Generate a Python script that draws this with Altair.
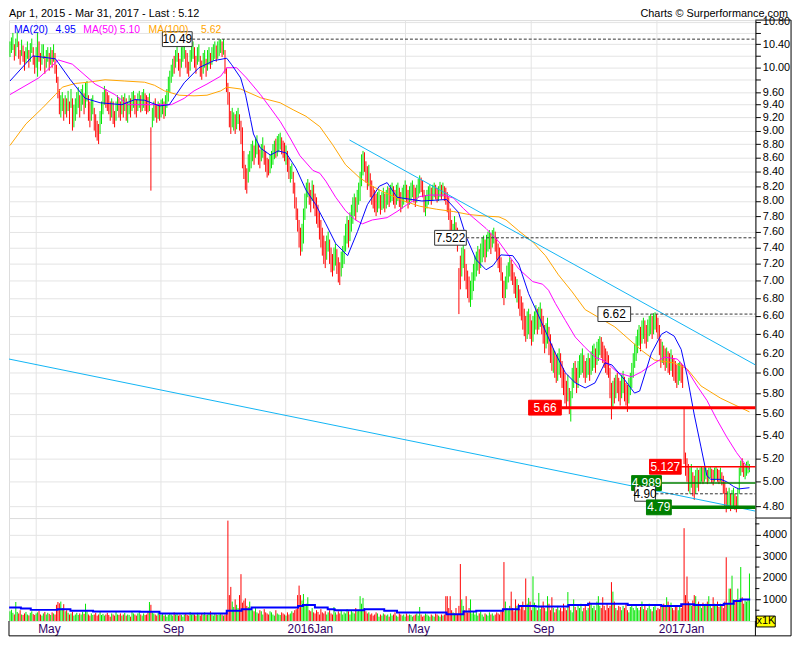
import math
import altair as alt
import pandas as pd

# ---------------- data ----------------
# daily bars: (low, high, direction) prices in cents, g = up day, r = down day
daily_bars = [
 (1018,1045,'g'),(1025,1052,'g'),(1030,1060,'g'),(1012,1040,'r'),(1020,1050,'g'),(1035,1062,'g'),(1015,1045,'r'),(1005,1030,'r'),(1020,1048,'g'),(1010,1038,'r'),
 (995,1028,'r'),(1008,1035,'g'),(1015,1045,'g'),(1000,1030,'r'),(1010,1042,'g'),(1025,1050,'g'),(1005,1035,'r'),(990,1020,'r'),(1000,1035,'g'),(985,1060,'g'),
 (1010,1045,'r'),(995,1025,'r'),(1005,1040,'g'),(1015,1040,'g'),(990,1020,'r'),(1000,1030,'g'),(1010,1035,'g'),(995,1025,'r'),(1005,1035,'g'),(1000,1030,'r'),
 (1010,1040,'g'),(990,1025,'r'),(975,1005,'r'),(950,985,'r'),(925,965,'r'),(920,955,'g'),(930,960,'g'),(915,950,'r'),(925,955,'g'),(920,950,'r'),
 (930,962,'g'),(910,945,'r'),(935,965,'g'),(900,950,'r'),(905,940,'g'),(915,950,'g'),(925,960,'g'),(935,968,'g'),(920,955,'r'),(930,965,'g'),
 (940,972,'g'),(925,958,'r'),(935,975,'g'),(945,978,'g'),(915,955,'r'),(905,945,'r'),(915,950,'g'),(925,955,'g'),(900,935,'r'),(890,925,'r'),
 (885,915,'r'),(880,910,'r'),(895,930,'g'),(910,945,'g'),(925,960,'g'),(940,970,'g'),(935,965,'r'),(930,960,'r'),(925,955,'r'),(915,945,'r'),
 (920,950,'g'),(910,945,'r'),(905,930,'r'),(915,945,'g'),(930,955,'g'),(920,950,'r'),(915,945,'r'),(925,955,'g'),(920,952,'r'),(930,958,'g'),
 (915,950,'r'),(912,945,'g'),(925,955,'g'),(920,950,'r'),(930,960,'g'),(935,962,'g'),(925,955,'r'),(920,948,'r'),(930,958,'g'),(935,962,'g'),
 (928,955,'r'),(930,960,'g'),(935,965,'g'),(930,958,'r'),(925,955,'r'),(928,952,'r'),(930,958,'g'),(814,905,'r'),(905,935,'g'),(915,945,'g'),
 (920,950,'r'),(912,940,'r'),(918,945,'g'),(915,942,'r'),(920,948,'g'),(925,950,'g'),(918,945,'r'),(922,955,'g'),(935,965,'g'),(945,985,'g'),
 (960,995,'g'),(975,1005,'g'),(985,1015,'g'),(990,1020,'r'),(1000,1030,'g'),(1010,1040,'g'),(995,1025,'r'),(985,1015,'r'),(1000,1035,'g'),(1010,1038,'g'),
 (1015,1045,'g'),(1000,1030,'r'),(990,1025,'r'),(985,1010,'r'),(995,1030,'g'),(1010,1040,'g'),(1015,1045,'g'),(1000,1035,'r'),(990,1020,'r'),(1005,1035,'g'),
 (1010,1040,'g'),(985,1020,'r'),(980,1012,'r'),(990,1025,'g'),(1000,1030,'g'),(985,1015,'r'),(995,1030,'g'),(1005,1035,'g'),(998,1025,'r'),(1005,1035,'g'),
 (1012,1040,'g'),(1015,1045,'g'),(1010,1038,'r'),(1015,1045,'g'),(1020,1048,'g'),(1025,1049,'g'),(1018,1045,'r'),(1022,1049,'g'),(990,1030,'r'),(960,1000,'r'),
 (940,975,'r'),(905,960,'r'),(895,930,'r'),(905,935,'g'),(900,928,'g'),(895,925,'r'),(902,930,'g'),(910,935,'g'),(900,925,'r'),(880,915,'r'),
 (845,905,'r'),(830,870,'r'),(815,850,'r'),(810,845,'r'),(825,865,'g'),(840,870,'g'),(845,880,'g'),(855,885,'g'),(850,878,'r'),(860,888,'g'),
 (865,893,'g'),(850,880,'r'),(845,872,'r'),(855,880,'g'),(860,890,'g'),(850,878,'r'),(840,870,'r'),(832,860,'r'),(835,858,'r'),(838,865,'g'),
 (845,870,'g'),(850,880,'g'),(858,885,'g'),(860,888,'r'),(862,892,'g'),(868,895,'g'),(872,897,'g'),(865,890,'r'),(860,885,'r'),(855,882,'r'),
 (850,878,'g'),(840,870,'r'),(830,860,'r'),(825,848,'g'),(830,852,'g'),(810,840,'r'),(790,825,'r'),(775,805,'r'),(760,790,'r'),(740,775,'r'),
 (730,765,'r'),(735,770,'g'),(745,790,'g'),(775,810,'g'),(790,825,'g'),(805,830,'g'),(795,825,'r'),(785,815,'r'),(800,828,'g'),(790,822,'r'),
 (780,810,'r'),(770,805,'r'),(765,795,'r'),(750,785,'r'),(740,775,'r'),(730,765,'r'),(720,755,'r'),(715,748,'r'),(725,755,'g'),(735,760,'g'),
 (720,750,'r'),(710,740,'r'),(705,732,'r'),(712,740,'g'),(718,745,'g'),(708,738,'r'),(698,728,'r'),(695,722,'r'),(705,735,'g'),(715,742,'g'),
 (720,755,'g'),(735,770,'g'),(745,780,'g'),(740,775,'r'),(748,785,'g'),(760,795,'g'),(770,805,'g'),(780,810,'g'),(775,805,'r'),(785,815,'g'),
 (795,825,'g'),(800,840,'g'),(820,865,'g'),(835,870,'g'),(840,868,'r'),(825,855,'r'),(815,848,'r'),(820,850,'g'),(805,838,'r'),(795,828,'r'),
 (790,820,'r'),(785,815,'r'),(780,810,'r'),(785,812,'g'),(790,815,'g'),(782,808,'r'),(788,812,'g'),(790,818,'g'),(785,810,'r'),(790,815,'g'),
 (795,820,'g'),(792,818,'r'),(798,822,'g'),(800,825,'g'),(795,820,'r'),(790,815,'r'),(795,822,'g'),(800,825,'g'),(792,818,'r'),(785,812,'r'),
 (790,818,'g'),(795,822,'g'),(802,828,'g'),(798,822,'r'),(790,815,'r'),(795,820,'g'),(800,825,'g'),(805,828,'g'),(798,822,'r'),(792,818,'r'),
 (798,822,'g'),(805,830,'g'),(810,835,'g'),(812,832,'r'),(805,828,'r'),(785,815,'r'),(780,808,'g'),(790,815,'g'),(795,820,'g'),(800,822,'g'),
 (795,818,'r'),(800,822,'g'),(805,825,'g'),(802,822,'r'),(798,818,'r'),(800,820,'g'),(805,826,'g'),(802,822,'r'),(806,825,'g'),(800,820,'r'),
 (795,818,'r'),(785,812,'r'),(775,805,'r'),(760,790,'r'),(750,775,'r'),(748,770,'g'),(752,780,'g'),(745,772,'r'),(735,765,'r'),(662,715,'r'),
 (690,730,'r'),(705,740,'g'),(715,745,'g'),(700,738,'r'),(690,720,'r'),(680,712,'r'),(675,705,'r'),(670,700,'g'),(678,710,'g'),(688,720,'g'),
 (700,730,'g'),(705,735,'g'),(712,742,'g'),(708,738,'r'),(715,745,'g'),(722,752,'g'),(728,755,'g'),(722,750,'r'),(728,756,'g'),(735,760,'g'),
 (738,762,'g'),(732,758,'r'),(740,762,'g'),(745,765,'g'),(735,760,'r'),(725,752,'r'),(715,745,'r'),(710,740,'r'),(700,728,'r'),(680,710,'r'),
 (672,700,'r'),(680,705,'g'),(690,718,'g'),(698,722,'g'),(705,728,'g'),(700,725,'r'),(695,720,'r'),(685,710,'r'),(680,705,'r'),(675,702,'g'),
 (668,695,'r'),(660,690,'r'),(655,682,'r'),(645,675,'r'),(638,668,'r'),(632,660,'r'),(635,665,'g'),(640,668,'g'),(635,662,'r'),(628,655,'r'),
 (632,660,'g'),(640,665,'g'),(645,672,'g'),(640,668,'r'),(645,670,'g'),(648,675,'g'),(640,668,'r'),(630,660,'r'),(620,650,'r'),(625,652,'g'),
 (630,658,'g'),(618,648,'r'),(610,640,'r'),(602,630,'r'),(600,625,'g'),(595,622,'r'),(590,618,'r'),(592,620,'g'),(598,625,'g'),(595,620,'r'),
 (585,612,'r'),(578,605,'r'),(570,600,'r'),(565,592,'r'),(572,598,'g'),(560,585,'r'),(553,582,'g'),(575,605,'g'),(585,610,'g'),(590,612,'r'),
 (580,605,'r'),(585,612,'g'),(595,618,'g'),(598,620,'g'),(600,625,'g'),(595,618,'r'),(590,612,'r'),(595,615,'g'),(598,620,'g'),(592,615,'r'),
 (598,622,'g'),(602,628,'g'),(605,630,'g'),(600,625,'r'),(608,632,'g'),(612,635,'g'),(618,638,'g'),(615,637,'r'),(610,632,'r'),(605,628,'r'),
 (600,625,'r'),(598,622,'r'),(595,618,'r'),(575,605,'r'),(555,590,'r'),(565,592,'g'),(570,595,'r'),(575,598,'g'),(580,600,'r'),(572,595,'r'),
 (568,592,'r'),(575,598,'g'),(580,602,'g'),(572,596,'r'),(568,590,'r'),(562,588,'r'),(570,595,'g'),(578,600,'g'),(585,610,'g'),(595,620,'g'),
 (605,630,'g'),(612,638,'g'),(620,645,'g'),(628,650,'g'),(622,648,'r'),(630,655,'g'),(635,658,'g'),(630,655,'r'),(625,650,'r'),(632,656,'g'),
 (638,660,'g'),(640,662,'g'),(635,660,'r'),(640,663,'g'),(645,664,'g'),(642,662,'r'),(635,658,'r'),(618,650,'r'),(605,635,'r'),(610,632,'g'),
 (608,628,'r'),(602,625,'r'),(605,626,'g'),(600,622,'r'),(598,620,'r'),(602,624,'g'),(596,618,'r'),(592,615,'r'),(590,612,'r'),(585,608,'r'),
 (588,610,'g'),(592,612,'g'),(590,610,'r'),(585,608,'r'),(515,566,'r'),(505,525,'r'),(500,520,'r'),(492,515,'r'),(490,512,'g'),(495,515,'g'),
 (488,508,'r'),(485,505,'r'),(490,510,'g'),(495,512,'g'),(492,510,'r'),(498,512,'g'),(500,513,'g'),(498,512,'r'),(500,513,'g'),(502,512,'g'),
 (498,510,'r'),(500,512,'g'),(503,513,'g'),(499,511,'r'),(497,510,'r'),(500,512,'g'),(502,513,'g'),(500,511,'r'),(498,510,'r'),(500,512,'g'),
 (497,508,'r'),(490,505,'r'),(480,500,'r'),(475,495,'r'),(478,492,'g'),(480,495,'g'),(476,490,'r'),(478,493,'g'),(480,495,'g'),(477,490,'r'),
 (475,488,'r'),(480,495,'g'),(490,512,'g'),(505,518,'g'),(508,520,'r'),(504,516,'r'),(502,514,'g'),(505,517,'g'),(507,518,'g'),(508,515,'g'),
]

# daily volume (thousands)
volumes_k = [
 450,520,380,300,880,420,350,500,300,280, 350,420,300,260,380,450,320,280,350,400,
 480,300,250,350,420,300,380,330,280,400, 350,300,750,880,820,900,600,780,450,500,
 380,300,350,420,250,300,380,280,350,300, 420,330,800,450,300,250,350,280,300,380,
 250,300,420,280,330,250,300,380,280,200, 350,300,250,420,300,280,350,250,300,380,
 250,300,280,200,450,350,300,250,350,400, 300,250,350,280,300,450,880,750,400,350,
 300,250,380,300,280,350,250,300,200,280, 350,300,250,400,300,350,250,300,280,200,
 300,350,280,250,420,300,350,300,250,380, 300,250,350,300,400,280,300,350,450,300,
 250,350,300,280,300,350,300,250,300,380, 4650,1200,1580,900,650,1000,750,600,1200,2170,
 850,950,1050,700,650,900,550,500,450,600, 400,350,500,450,300,550,400,350,300,450,
 400,300,250,500,350,300,280,400,350,300, 250,400,300,350,450,380,500,550,1200,1640,
 1200,950,1250,700,800,1100,500,450,600,400, 350,500,420,300,550,400,350,450,300,400,
 500,350,300,650,400,300,450,350,500,300, 400,350,550,450,300,500,400,350,600,450,
 500,1150,800,1070,600,450,350,400,300,350, 250,300,400,350,200,300,250,350,300,250,
 300,200,350,250,300,400,250,200,350,300, 250,300,200,350,250,300,280,200,250,300,
 350,250,650,300,200,250,350,300,250,200, 300,250,200,350,300,250,200,300,250,300,
 1150,1150,600,1150,500,400,350,600,300,700, 2640,1000,700,500,1150,400,600,1000,350,450,
 300,400,250,350,450,300,200,350,300,250, 400,300,350,250,300,400,350,300,450,500,
 2730,900,600,500,700,1360,600,450,1000,700, 800,550,650,900,500,1970,800,1070,900,500,
 2070,850,600,500,1300,550,700,900,600,450, 1150,800,500,1100,600,400,550,700,500,600,
 450,800,600,500,1340,700,500,400,1000,650, 500,700,600,800,450,600,700,500,600,900,
 800,600,700,500,900,1150,700,600,1100,700, 500,800,600,700,1800,1360,900,600,500,700,
 650,500,700,600,800,500,400,650,700,600, 500,750,600,500,650,900,550,700,500,600,
 800,550,450,650,700,500,600,550,700,650, 800,700,1100,900,700,850,600,500,700,650,
 500,700,600,800,4300,1200,2060,900,800,700, 950,1200,1150,800,900,700,600,850,700,800,
 900,1150,700,600,1100,800,700,900,650,800, 700,600,900,2950,800,1500,1500,2100,1000,900,
 1000,1500,950,2500,1100,800,950,900,1000,2200,
]

# moving averages: (day index, price)
ma20_pts = [(0,9.78),(15.7,10.2),(31.3,10.15),(41.6,9.8),(51.8,9.5),(62,9.43),(77,9.4),(85.9,9.48),
 (92.7,9.47),(102.9,9.38),(109.7,9.4),(119.9,9.75),(130.1,10.0),(140.4,10.12),(149.2,10.16),(152.6,10.05),
 (158.8,9.83),(162.2,9.55),(165.6,9.17),(167.6,8.95),(172.4,8.74),(179.2,8.64),(184.7,8.7),(190.1,8.67),
 (196.9,8.45),(203.7,8.15),(210.5,7.95),(217.4,7.7),(224.2,7.45),(232.4,7.3),(239.2,7.6),(246,7.95),
 (254.2,8.2),(259.6,8.25),(266.4,8.05),(283.5,8.0),(300.5,8.02),(308.7,7.85),(314.1,7.53),(320.9,7.25),
 (327.7,7.13),(332.5,7.18),(337.9,7.31),(346.1,7.3),(350.2,7.2),(357,6.85),(363.9,6.6),(375.4,6.2),
 (382.3,6.0),(389.1,5.9),(395.9,5.85),(402.7,5.9),(409.5,6.1),(414.3,6.08),(423.1,5.93),(429.9,5.8),
 (433.4,5.82),(441.5,6.2),(448.4,6.4),(451.8,6.43),(457.2,6.38),(462,6.24),(466.1,5.97),(470.9,5.6),
 (475.6,5.3),(479.7,5.05),(482.4,5.02),(489.2,5.02),(493.3,5.0),(498.1,4.96),(501.5,4.94),(509,4.95)]
ma50_pts = [(0,9.56),(19.8,9.83),(33.4,10.13),(42.9,10.06),(58.6,9.73),(72.2,9.56),(81.1,9.4),(111.1,9.4),
 (119.9,9.5),(126.7,9.62),(135.6,9.73),(145.1,9.86),(149.2,10.0),(156,10.0),(162.8,9.83),(172.4,9.56),
 (179.2,9.35),(186,9.14),(192.8,8.89),(199.6,8.63),(208.5,8.42),(213.3,8.38),(217.4,8.27),(224.2,8.05),
 (231,7.87),(237.8,7.75),(242.6,7.7),(249.4,7.75),(259.6,7.78),(266.4,7.86),(273.2,7.95),(282.1,8.06),
 (288.9,8.08),(298.4,8.08),(305.3,8.04),(312.1,7.9),(318.9,7.78),(327.7,7.64),(336.6,7.47),(343.4,7.3),
 (350.2,7.14),(359.8,6.99),(366.6,6.96),(370.7,6.89),(375.4,6.74),(382.3,6.55),(389.1,6.37),(395.9,6.26),
 (402.7,6.16),(409.5,6.12),(418.4,6.0),(427.9,5.96),(434.7,6.01),(441.5,6.08),(450.4,6.16),(459.3,6.14),
 (466.1,6.03),(472.9,5.87),(479.7,5.73),(486.5,5.55),(493.3,5.39),(500.1,5.25),(509,5.10)]
ma100_pts = [(0,8.78),(10.9,9.1),(22.5,9.35),(31.3,9.56),(36.1,9.68),(45,9.74),(53.8,9.76),(65.4,9.8),
 (79,9.78),(92.7,9.76),(99.5,9.71),(106.3,9.62),(116.5,9.55),(126.7,9.54),(135.6,9.55),(145.1,9.62),
 (149.2,9.68),(158.8,9.65),(172.4,9.51),(186,9.43),(194.9,9.32),(203.7,9.22),(213.3,9.06),(222.1,8.79),
 (231,8.5),(240.5,8.32),(249.4,8.2),(256.2,8.13),(263,8.07),(271.2,8.0),(282.1,7.93),(293.7,7.89),
 (305.3,7.86),(316.2,7.82),(327.7,7.8),(336.6,7.79),(341.4,7.75),(350.2,7.61),(359.8,7.47),(368.6,7.3),
 (377.5,7.07),(387,6.87),(395.9,6.67),(416.3,6.48),(434.7,6.23),(443.6,6.13),(457.2,6.1),(466.1,6.04),
 (475.6,5.87),(489.2,5.75),(509,5.62)]
# average volume line (thousands), step shaped
vol_ma_pts = [(-0.6,621),(7.5,576),(14.3,515),(32.7,545),(41.6,470),(57.2,439),(89.3,424),(102.9,348),
 (149.2,470),(159.4,545),(166.3,621),(198.3,697),(201.7,742),(209.9,621),(218.7,545),(223.5,500),
 (243.9,545),(257.6,470),(266.4,395),(300.5,318),(312.1,439),(320.9,470),(339.3,545),(350.2,697),
 (361.8,667),(384.3,742),(397.9,803),(425.2,742),(448.4,697),(462,773),(470.9,742),(491.3,803),
 (498.1,924),(502.9,1000),(509.5,1000)]

# trend lines: two end points each (day index, price)
trend_upper = [(233.7, 8.86), (513.1, 6.08)]
trend_lower = [(-0.68, 6.14), (513.1, 4.76)]

# marked levels: price, label, box start/end (day index), style
levels = [
 (10.49, "10.49", 104.9, 125.4, "dash"),
 (7.522, "7.522", 292.3, 314.1, "dash"),
 (6.62, "6.62", 404.7, 427.2, "dash"),
 (5.66, "5.66", 357.0, 379.5, "red_thick"),
 (5.127, "5.127", 440.2, 462.0, "red"),
 (4.989, "4.989", 427.9, 448.4, "green"),
 (4.90, "4.90", 430.0, 444.3, "dash"),
 (4.79, "4.79", 438.1, 455.2, "green_thick"),
]

month_ticks = [17.7, 103.6, 189.4, 271.9, 358.4, 444.9]
month_labels = ["May", "Sep", "2016Jan", "May", "Sep", "2017Jan"]
price_ticks = [4.8, 5.0, 5.2, 5.4, 5.6, 5.8, 6.0, 6.2, 6.4, 6.6, 6.8, 7.0, 7.2, 7.4, 7.6, 7.8,
               8.0, 8.2, 8.4, 8.6, 8.8, 9.0, 9.2, 9.4, 9.6, 9.8, 10.0, 10.2, 10.4, 10.6, 10.8]
hidden_price_labels = [9.8, 10.2, 10.6]
volume_ticks = [1000, 2000, 3000, 4000]
volume_minor_ticks = [500, 1500, 2500, 3500, 4500]

legend_items = [("MA(20)", "4.95", "#0000ff"), ("MA(50)", "5.10", "#ff00ff"), ("MA(100)", "5.62", "#ffa500")]
title_left = "Apr 1, 2015 - Mar 31, 2017 - Last : 5.12"
title_right = "Charts \u00a9 Surperformance.com"

# ---------------- chart ----------------
W, HP, HV = 754, 503, 104
FONT = "Liberation Sans"
GREEN, RED = "#00e600", "#ff0000"
X_DOMAIN = [-0.68, 513.1]
Y_DOMAIN = [4.705, 10.83]
V_DOMAIN = [0, 4770]
PX_PER_LN = HP / math.log(Y_DOMAIN[1] / Y_DOMAIN[0])

xs = alt.Scale(domain=X_DOMAIN, nice=False, zero=False)
ys = alt.Scale(type="log", domain=Y_DOMAIN, nice=False)
vs = alt.Scale(domain=V_DOMAIN, nice=False, zero=True)
dir_color = alt.Color("dir:N", scale=alt.Scale(domain=["g", "r"], range=[GREEN, RED]), legend=None)

# axis label expressions built from the tick lists (plain comparisons)
month_expr = " : ".join("abs(datum.value - %s) < 0.01 ? '%s'" % (t, l)
                        for t, l in zip(month_ticks, month_labels)) + " : ''"
hide_cond = " || ".join("abs(datum.value - %s) < 0.001" % v for v in hidden_price_labels)
price_expr = "(%s) ? '' : format(datum.value, '.2f')" % hide_cond

GRID = "#e4e4e4"
x_price_axis = alt.Axis(values=month_ticks, grid=True, labels=False, ticks=False, domain=False,
                        title=None, gridColor=GRID)
y_price_axis = alt.Axis(orient="right", values=price_ticks, labelExpr=price_expr, grid=True,
                        gridColor=GRID, domain=True, domainColor="black", ticks=True,
                        tickColor="black", tickSize=5, labelFontSize=11, labelColor="black",
                        labelFont=FONT, labelPadding=2, title=None, labelOverlap=False)
x_vol_axis = alt.Axis(values=month_ticks, labelExpr=month_expr, grid=True, gridColor=GRID,
                      ticks=False, domain=False, labelAlign="left", labelBaseline="top",
                      labelPadding=3, labelOffset=2, labelFontSize=12, labelFont=FONT,
                      labelColor="#330066", title=None, labelOverlap=False)
y_vol_axis = alt.Axis(orient="right", values=volume_ticks, format="d", grid=True, gridColor=GRID,
                      domain=True, domainColor="black", ticks=True, tickColor="black", tickSize=5,
                      labelFontSize=11, labelFont=FONT, labelColor="black", labelPadding=2,
                      title=None, labelOverlap=False)

def PX(field):
    return alt.X(field, type="quantitative", scale=xs, axis=x_price_axis)

def PY(field):
    return alt.Y(field, type="quantitative", scale=ys, axis=y_price_axis)

def VX(field):
    return alt.X(field, type="quantitative", scale=xs, axis=x_vol_axis)

def VY(field):
    return alt.Y(field, type="quantitative", scale=vs, axis=y_vol_axis)

bars_df = pd.DataFrame({
    "i": list(range(len(daily_bars))),
    "lo": [b[0] / 100 for b in daily_bars],
    "hi": [b[1] / 100 for b in daily_bars],
    "dir": [b[2] for b in daily_bars],
})
vol_df = pd.DataFrame({
    "i": list(range(len(volumes_k))),
    "v": volumes_k,
    "zero": [0] * len(volumes_k),
    "dir": [b[2] for b in daily_bars[:len(volumes_k)]],
})

price_bars = alt.Chart(bars_df).mark_rule(strokeWidth=1).encode(
    x=PX("i"), y=PY("lo"), y2="hi:Q", color=dir_color)

def line_layer(pts, color, width=1.0):
    df = pd.DataFrame({"i": [p[0] for p in pts], "p": [p[1] for p in pts]})
    return alt.Chart(df).mark_line(color=color, strokeWidth=width, clip=True).encode(
        x=PX("i"), y=PY("p"))

price_layers = [price_bars,
                line_layer(ma100_pts, "#ffa500"),
                line_layer(ma50_pts, "#ff00ff"),
                line_layer(ma20_pts, "#0000ff"),
                line_layer(trend_upper, "#10b4f4"),
                line_layer(trend_lower, "#10b4f4")]

style_map = {
    "dash": dict(color="#333333", strokeWidth=1, strokeDash=[3, 2]),
    "red_thick": dict(color=RED, strokeWidth=3),
    "red": dict(color=RED, strokeWidth=1.5),
    "green": dict(color="#008000", strokeWidth=1.5),
    "green_thick": dict(color="#008000", strokeWidth=3.5),
}
box_map = {
    "dash": ("white", "#333333", "black"),
    "red_thick": (RED, RED, "white"),
    "red": (RED, RED, "white"),
    "green": ("#008000", "#008000", "white"),
    "green_thick": ("#008000", "#008000", "white"),
}

for price, label, b0, b1, style in levels:
    df = pd.DataFrame({"x1": [b1], "x2": [X_DOMAIN[1]], "p": [price]})
    price_layers.append(alt.Chart(df).mark_rule(**style_map[style]).encode(
        x=PX("x1"), x2="x2:Q", y=PY("p")))

half = math.exp(7.5 / PX_PER_LN)
box_rows = []
for price, label, b0, b1, style in levels:
    fill, stroke, tc = box_map[style]
    box_rows.append({"x1": b0, "x2": b1, "xm": (b0 + b1) / 2, "p": price,
                     "plo": price / half, "phi": price * half,
                     "fill": fill, "stroke": stroke, "tc": tc, "label": label})
box_df = pd.DataFrame(box_rows)
price_layers.append(alt.Chart(box_df).mark_rect(strokeWidth=1).encode(
    x=PX("x1"), x2="x2:Q", y=PY("plo"), y2="phi:Q",
    fill=alt.Fill("fill:N", scale=None), stroke=alt.Stroke("stroke:N", scale=None)))
price_layers.append(alt.Chart(box_df).mark_text(font=FONT, fontSize=12, baseline="middle", align="center").encode(
    x=PX("xm"), y=PY("p"), text="label:N", fill=alt.Fill("tc:N", scale=None)))

# legend line at the top of the price panel
one = pd.DataFrame({"k": [0]})
lx = [5, 47, 75, 112, 141, 194]
for n, (name, val, col) in enumerate(legend_items):
    for txt, px in ((name, lx[2 * n]), (val, lx[2 * n + 1])):
        price_layers.append(alt.Chart(one).mark_text(text=txt, font=FONT, fontSize=10.5, color=col,
                                                     align="left", baseline="alphabetic").encode(
            x=alt.value(px), y=alt.value(13)))

# titles above the panel
price_layers.append(alt.Chart(one).mark_text(text=title_left, font=FONT, fontSize=11, color="black",
                                             align="left", baseline="alphabetic").encode(
    x=alt.value(0), y=alt.value(-3)))
price_layers.append(alt.Chart(one).mark_text(text=title_right, font=FONT, fontSize=11, color="black",
                                             align="right", baseline="alphabetic").encode(
    x=alt.value(787), y=alt.value(-3)))

# right column frame
price_layers.append(alt.Chart(one).mark_rule(color="black", strokeWidth=1).encode(
    x=alt.value(790), y=alt.value(0), y2=alt.value(HP)))
price_layers.append(alt.Chart(one).mark_rule(color="black", strokeWidth=1).encode(
    x=alt.value(W), x2=alt.value(790), y=alt.value(0)))

price_chart = alt.layer(*price_layers).properties(width=W, height=HP)

# ---------------- volume panel ----------------
vol_bars = alt.Chart(vol_df).mark_rule(strokeWidth=1).encode(
    x=VX("i"), y=VY("v"), y2="zero:Q", color=dir_color)
vma_df = pd.DataFrame({"i": [p[0] for p in vol_ma_pts], "v": [p[1] for p in vol_ma_pts]})
vol_ma = alt.Chart(vma_df).mark_line(color="#0000ff", strokeWidth=2, interpolate="step-after", clip=True).encode(
    x=VX("i"), y=VY("v"))
minor_df = pd.DataFrame({"v": volume_minor_ticks})
vol_minor = alt.Chart(minor_df).mark_rule(color="black", strokeWidth=1).encode(
    x=alt.value(W), x2=alt.value(W + 4), y=VY("v"))
x1k_box = alt.Chart(one).mark_rect(fill="#ffff00", stroke="black", strokeWidth=1).encode(
    x=alt.value(W + 1), x2=alt.value(W + 20), y=alt.value(HV - 5), y2=alt.value(HV + 6))
x1k_text = alt.Chart(one).mark_text(text="x1K", font=FONT, fontSize=11, color="black",
                                    align="center", baseline="middle").encode(
    x=alt.value(W + 10.5), y=alt.value(HV + 0.5))
frame = [
    alt.Chart(one).mark_rule(color="black").encode(x=alt.value(0), y=alt.value(HV), y2=alt.value(HV + 15)),
    alt.Chart(one).mark_rule(color="black").encode(x=alt.value(W), y=alt.value(HV), y2=alt.value(HV + 15)),
    alt.Chart(one).mark_rule(color="black").encode(x=alt.value(790), y=alt.value(0), y2=alt.value(HV + 15)),
    alt.Chart(one).mark_rule(color="black").encode(x=alt.value(0), x2=alt.value(790), y=alt.value(HV + 15)),
    alt.Chart(one).mark_rule(color="black").encode(x=alt.value(W), x2=alt.value(790), y=alt.value(0)),
]

volume_chart = alt.layer(vol_bars, vol_ma, vol_minor, x1k_box, x1k_text, *frame).properties(width=W, height=HV)

chart = alt.vconcat(price_chart, volume_chart, spacing=0, bounds="flush").properties(
    padding={"left": 0, "top": -4, "right": 5, "bottom": 2}
).configure_view(stroke="black", strokeWidth=1).configure(background="white")

chart.save("out.html", embed_options={"renderer": "svg", "actions": False})
